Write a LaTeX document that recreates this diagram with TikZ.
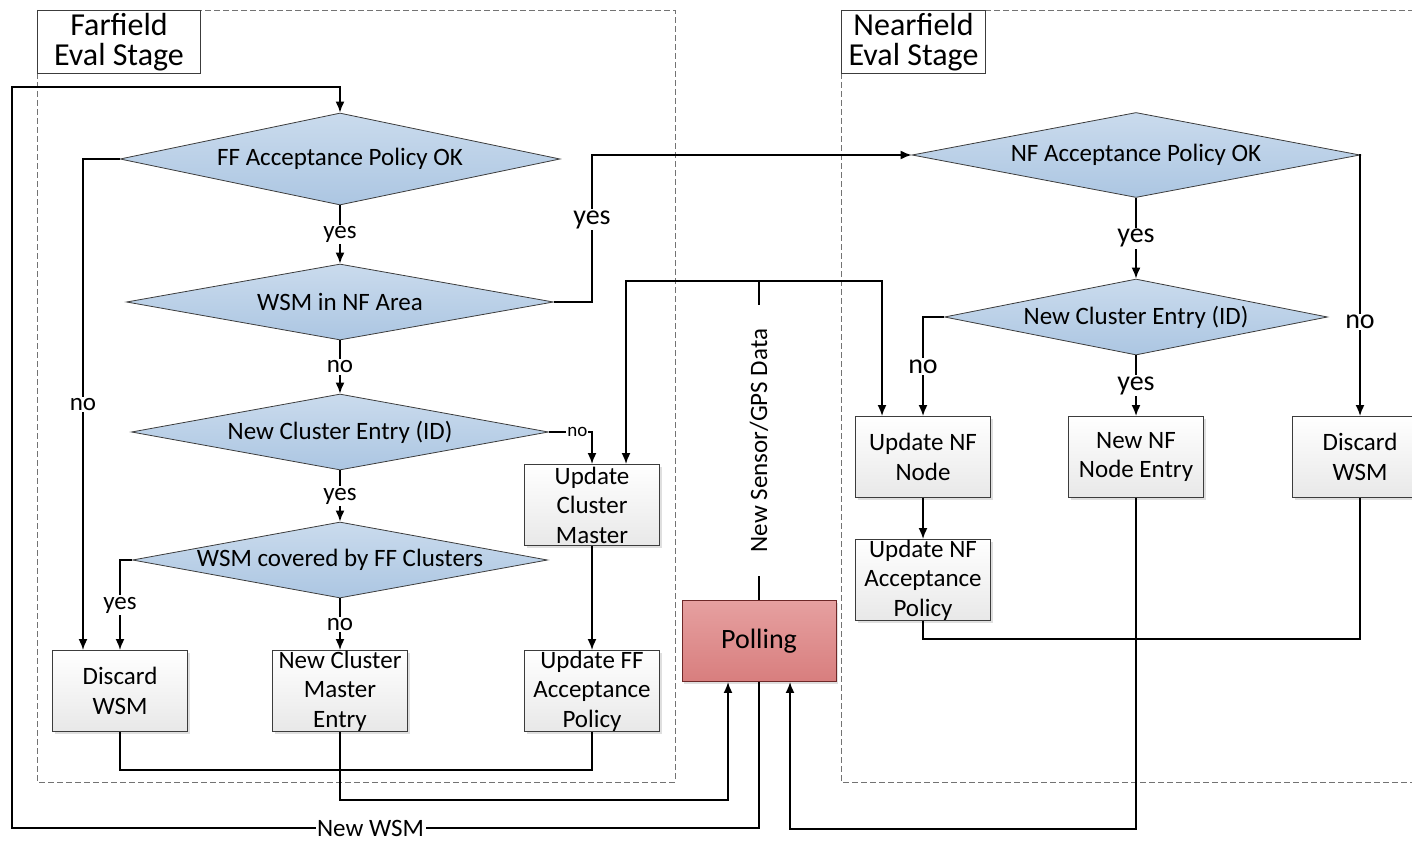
\documentclass[tikz,border=0pt]{standalone}
\usepackage{fontspec}
\setmainfont{Carlito}
\usepackage{xcolor}
\usepackage{tikz}
\usetikzlibrary{shapes.geometric, shadows, arrows.meta}
\tikzset{>={Latex[length=11pt, width=9pt]}}

\definecolor{decTop}{RGB}{202,219,237}
\definecolor{decBot}{RGB}{172,198,226}
\definecolor{pollTop}{RGB}{230,160,160}
\definecolor{pollBot}{RGB}{216,126,126}
\definecolor{pollLine}{RGB}{110,40,40}
\definecolor{boxLine}{RGB}{60,60,60}

\tikzset{
  decision/.style={diamond, draw=boxLine, line width=0.8pt, top color=decTop, bottom color=decBot,
    inner sep=0pt, aspect=5.5, font=\fontsize{25}{29}\selectfont},
  process/.style={rectangle, draw=boxLine, line width=0.9pt, top color=white, bottom color=black!9,
    inner sep=0pt, text width=135pt, minimum height=81pt, align=flush center,
    font=\fontsize{25}{29.5}\selectfont, drop shadow={shadow xshift=2pt, shadow yshift=-2pt, opacity=0.25}},
  polling/.style={rectangle, draw=pollLine, line width=0.9pt, top color=pollTop, bottom color=pollBot,
    minimum width=154pt, minimum height=81pt, font=\fontsize{28}{34}\selectfont,
    drop shadow={shadow xshift=2pt, shadow yshift=-2pt, opacity=0.25}},
  stage/.style={draw=boxLine, fill=white, line width=1pt, inner sep=0pt, anchor=north west,
    align=flush center, minimum height=63pt, font=\fontsize{32}{30}\selectfont},
  frame/.style={draw=black!55, line width=0.9pt, dash pattern=on 6pt off 3pt},
  lbl/.style={fill=white, inner sep=1.5pt, font=\fontsize{25}{29}\selectfont},
  lblBig/.style={fill=white, inner sep=1.5pt, font=\fontsize{28}{34}\selectfont},
  lblSmall/.style={fill=white, inner sep=1pt, font=\fontsize{19}{23}\selectfont}
}

\begin{document}
\begin{tikzpicture}[x=1pt, y=-1pt, line width=1.8pt]
   \useasboundingbox (0,0) rectangle (1412,840);
   \clip (0,0) rectangle (1412,840);

   % Stage frames
   \draw[frame] (37,10) rectangle (675,782);
   \draw[frame] (841,10) rectangle (1440,782);
   \node[stage, text width=163pt] (ffStage) at (37,10) {Farfield\\Eval Stage};
   \node[stage, text width=144pt] (nfStage) at (841,10) {Nearfield\\Eval Stage};

   % Farfield stage
   \node[decision, minimum width=440pt, minimum height=92pt] (ffOK) at (340,159) {FF Acceptance Policy OK};
   \node[decision, minimum width=427pt, minimum height=76pt] (inNF) at (340,302) {WSM in NF Area};
   \node[decision, minimum width=417pt, minimum height=76pt] (newClusterFF) at (340,432) {New Cluster Entry (ID)};
   \node[decision, minimum width=415pt, minimum height=76pt] (covered) at (340,560) {WSM covered by FF Clusters};

   \node[process] (discardFF) at (120,691) {Discard\\WSM};
   \node[process] (newMaster) at (340,691) {New Cluster\\Master\\Entry};
   \node[process] (updPolicyFF) at (592,691) {Update FF\\Acceptance\\Policy};
   \node[process] (updMaster) at (592,505) {Update\\Cluster\\Master};

   \node[polling] (poll) at (759,641) {Polling};

   % Nearfield stage
   \node[decision, minimum width=448pt, minimum height=85pt] (nfOK) at (1136,155) {NF Acceptance Policy OK};
   \node[decision, minimum width=383pt, minimum height=76pt] (newClusterNF) at (1136,317) {New Cluster Entry (ID)};
   \node[process] (updNode) at (923,457) {Update NF\\Node};
   \node[process] (newNode) at (1136,457) {New NF\\Node Entry};
   \node[process] (discardNF) at (1360,457) {Discard\\WSM};
   \node[process] (updPolicyNF) at (923,580) {Update NF\\Acceptance\\Policy};

   \coordinate (yesTurn) at (592,155);
   \coordinate (sensorJoin) at (759,281);
   \coordinate (wsmLow) at (12,828);
   \coordinate (wsmHigh) at (12,87);

   % FF decisions
   \foreach \a/\b/\t in {ffOK/inNF/yes, inNF/newClusterFF/no, newClusterFF/covered/yes, covered/newMaster/no}{
      \draw[->] (\a) -- node[lbl] {\t} (\b);
   }
   \draw[->] (ffOK.west) -| node[lbl, pos=0.75] {no} ([xshift=-37pt]discardFF.north);
   \draw[->] (covered.west) -| node[lbl, pos=0.75] {yes} (discardFF.north);
   \draw[->] (inNF.east) -| node[lblBig, pos=0.78] {yes} (yesTurn) -- (nfOK.west);
   \draw[->] (newClusterFF.east) -| node[lblSmall, pos=0.33] {no} (updMaster.north);
   \draw[->] (updMaster) -- (updPolicyFF);

   % Sensor input
   \draw (poll) -- node[lbl, rotate=90, inner xsep=24pt] {New Sensor/GPS Data} (sensorJoin);
   \draw[->] (sensorJoin) -| ([xshift=34pt]updMaster.north);
   \draw[->] (sensorJoin) -| ([xshift=-41pt]updNode.north);

   % NF decisions
   \draw[->] (nfOK) -- node[lblBig] {yes} (newClusterNF);
   \draw[->] (nfOK.east) -| node[lblBig, pos=0.82] {no} (discardNF.north);
   \draw[->] (newClusterNF.west) -| node[lblBig, pos=0.75] {no} (updNode.north);
   \draw[->] (newClusterNF) -- node[lblBig] {yes} (newNode);
   \draw[->] (updNode) -- (updPolicyNF);
   \draw (updPolicyNF.south) -- ++(0,18) -| (discardNF.south);

   % Back to polling
   \draw (discardFF.south) -- ++(0,38) -| (updPolicyFF.south);
   \draw[->] (newMaster.south) -- ++(0,68) -| ([xshift=-31pt]poll.south);
   \draw[->] (newNode.south) -- ++(0,331) -| ([xshift=31pt]poll.south);
   \draw[->] (poll.south) |- node[lbl, pos=0.76] {New WSM} (wsmLow) -- (wsmHigh) -| (ffOK.north);
\end{tikzpicture}
\end{document}
